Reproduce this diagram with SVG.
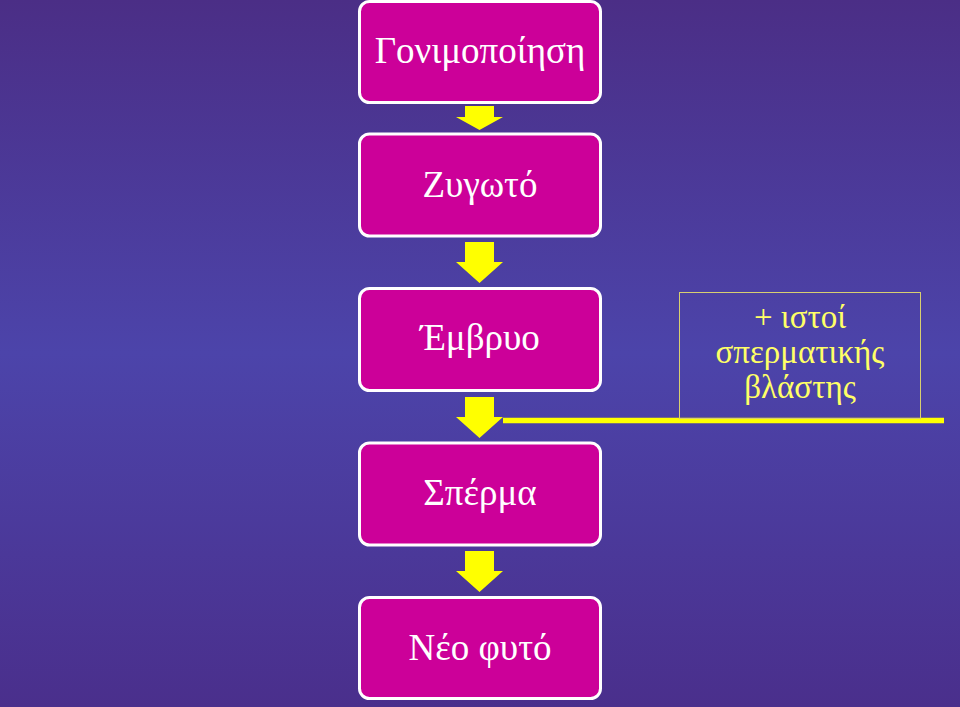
<svg xmlns="http://www.w3.org/2000/svg" width="960" height="707" viewBox="0 0 960 707">
<defs>
<linearGradient id="bg" x1="0" y1="0" x2="0" y2="1">
<stop offset="0" stop-color="#4b2e86"/>
<stop offset="0.5" stop-color="#4c44aa"/>
<stop offset="1" stop-color="#4a2f8c"/>
</linearGradient>
<path id="arr" d="M-15,0 H14 V20 H23 L-0.5,41 L-24,20 H-15 Z" fill="#ffff00"/>
<path id="arr1" d="M-15,0 H14 V11 H23 L-0.5,24 L-24,11 H-15 Z" fill="#ffff00"/>
</defs>
<style>
.box{fill:#cc0099;stroke:#ffffff;stroke-width:3}
.lbl{font-family:"Liberation Serif","Times New Roman",serif;font-size:37px;fill:#ffffff;text-anchor:middle}
.note{font-family:"Liberation Serif","Times New Roman",serif;font-size:33px;fill:#ffff66;text-anchor:middle}
</style>
<rect width="960" height="707" fill="url(#bg)"/>
<g id="connectors">
<use href="#arr1" x="480" y="106"/>
<use href="#arr" x="480" y="242"/>
<use href="#arr" x="480" y="397"/>
<use href="#arr" x="480" y="551"/>
<line x1="503" y1="420.5" x2="944" y2="420.5" stroke="#ffff00" stroke-width="5.5"/>
</g>
<g id="n1"><rect class="box" x="359.5" y="1.5" width="241" height="101" rx="10"/><text class="lbl" x="480" y="63">Γονιμοποίηση</text></g>
<g id="n2"><rect class="box" x="359.5" y="134" width="241" height="102" rx="10"/><text class="lbl" x="480" y="197">Ζυγωτό</text></g>
<g id="n3"><rect class="box" x="359.5" y="288.5" width="241" height="102" rx="10"/><text class="lbl" x="480" y="350">Έμβρυο</text></g>
<g id="n4"><rect class="box" x="359.5" y="443" width="241" height="102" rx="10"/><text class="lbl" x="480" y="505">Σπέρμα</text></g>
<g id="n5"><rect class="box" x="359.5" y="597.5" width="241" height="101" rx="10"/><text class="lbl" x="480" y="660">Νέο φυτό</text></g>
<g id="note">
<rect x="679.5" y="292.5" width="241" height="126" fill="none" stroke="#d8cf70" stroke-width="1"/>
<text class="note" x="800" y="328">+ ιστοί</text>
<text class="note" x="800" y="363">σπερματικής</text>
<text class="note" x="800" y="398">βλάστης</text>
</g>
</svg>
